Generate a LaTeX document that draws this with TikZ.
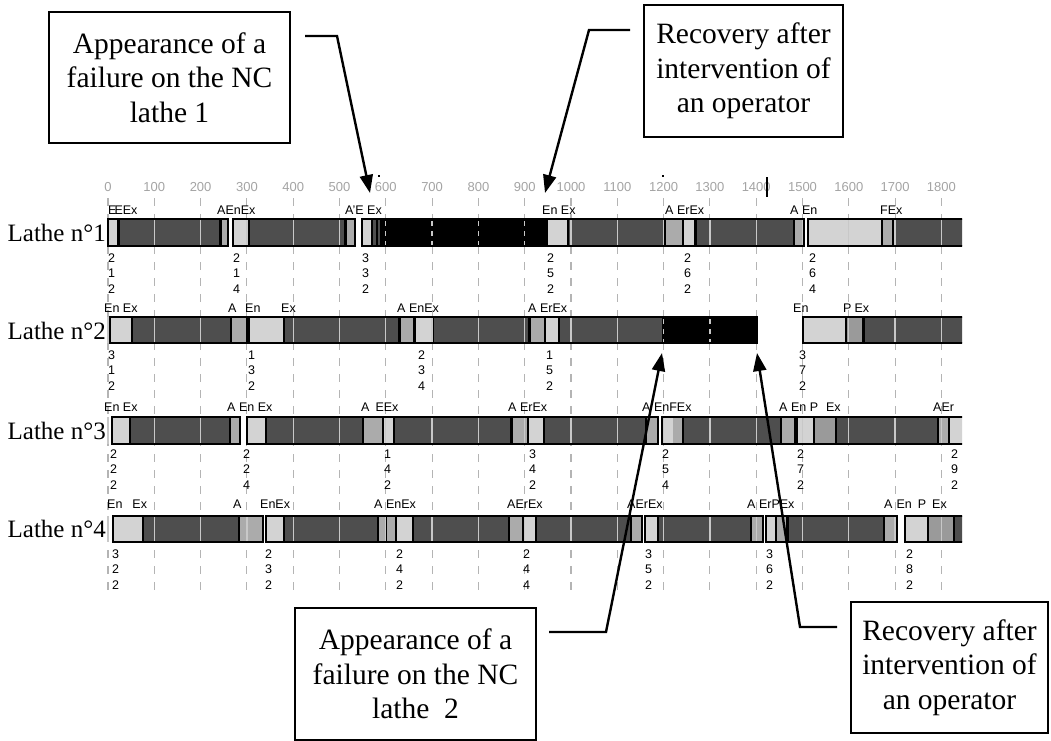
\documentclass[tikz,border=0pt]{standalone}
\usepackage{fontspec}
\setmainfont{Liberation Serif}
\setsansfont{Liberation Sans}
\usetikzlibrary{arrows.meta}
\definecolor{cL}{HTML}{D3D3D3}
\definecolor{cD}{HTML}{4E4E4E}
\definecolor{cM}{HTML}{ABABAB}
\definecolor{cP}{HTML}{9A9A9A}
\definecolor{cG}{HTML}{B4B4B4}
\definecolor{cT}{HTML}{A4A4A4}
\definecolor{cI}{HTML}{C8C8C8}
\newcommand{\chf}{\sffamily\fontsize{12.5}{15}\selectfont}
\newcommand{\axf}{\sffamily\fontsize{13}{15}\selectfont}
\newcommand{\bxf}{\fontsize{29.5}{34.5}\selectfont}
\newcommand{\lbf}{\fontsize{25}{28}\selectfont}
\def\rowA{108/117/cL,117/120/black,120/219/cD,219/222/black,222/228/cM,
233/248/cL,248/250/black,250/344/cD,344/347/black,347/355/cM,
362/371/cL,371/373/black,373/376/cD,376/378/black,378/380/cD,380/548/black,548/567/cL,567/569/black,569/663/cD,663/666/black,666/682/cM,682/684/black,684/694/cL,694/697/black,697/793/cD,793/795/black,795/804/cM,
808/881/cL,881/883/black,883/892/cM,892/895/black,895/966/cD}
\def\blkA{108/228,233/355,362/804,808/966}
\def\rowB{110/131/cL,131/133/black,133/230/cD,230/232/black,232/247/cM,
249/283/cL,283/285/black,285/398/cD,398/401/black,401/413/cM,413/416/black,416/432/cL,432/434/black,434/528/cD,528/531/black,531/544/cM,544/546/black,546/558/cL,558/560/black,560/662/cD,662/757/black,
803/845/cL,845/847/black,847/862/cP,862/865/black,865/966/cD}
\def\blkB{110/247,249/757,803/966}
\def\rowC{112/129/cL,129/131/black,131/229/cD,229/231/black,231/240/cM,
247/265/cL,265/267/black,267/362/cD,362/364/black,364/382/cM,382/384/black,384/393/cL,393/395/black,395/510/cD,510/513/black,513/527/cM,527/529/black,529/543/cL,543/545/black,545/645/cD,645/647/black,647/658/cM,
662/673/cL,673/682/cM,682/684/black,684/780/cD,780/782/black,782/795/cM,
797/813/cL,813/815/black,815/835/cP,835/837/black,837/937/cD,937/939/black,939/948/cM,948/950/black,950/966/cL}
\def\blkC{112/240,247/658,662/795,797/966}
\def\rowD{113/142/cL,142/144/black,144/238/cD,238/240/black,240/263/cM,
266/283/cL,283/285/black,285/377/cD,377/379/black,379/385/cM,385/387/black,387/395/cM,395/397/black,397/412/cL,412/414/black,414/508/cD,508/510/black,510/522/cM,522/524/black,524/535/cL,535/537/black,537/630/cD,630/632/black,632/642/cM,
645/657/cL,657/659/black,659/750/cD,750/752/black,752/763/cM,
766/775/cL,775/777/black,777/786/cM,786/789/black,789/883/cD,883/885/black,885/897/cM,
905/927/cL,927/929/black,929/953/cP,953/955/black,955/966/cD}
\def\blkD{113/263,266/642,645/763,766/897,905/966}
\newcommand{\barrow}[3]{%
  \foreach \a/\b/\c in #3 {\fill[\c] (\a,#1) rectangle (\b,#2);}
  \foreach \k in {0,...,18}{\draw[cI,line width=1.3pt] ({108+46.3*\k},#1) -- ({108+46.3*\k},#2);}
}
\newcommand{\boutl}[3]{%
  \foreach \a/\b in #3 {\draw[black,line width=1.3pt] (\a,#1) rectangle (\b,#2);}
}
\begin{document}
\begin{tikzpicture}[x=1pt,y=-1pt,
  chl/.style={font=\chf,anchor=west,inner sep=0pt},
  axl/.style={font=\axf,text=cT,inner sep=0pt},
  annot/.style={draw,line width=1.5pt,align=center,font=\bxf,inner sep=0pt},
  lathe/.style={font=\lbf,anchor=east,inner sep=0pt},
  conn/.style={line width=2.4pt,-{Triangle[length=18pt,width=13pt]}}]
\useasboundingbox (0,0) rectangle (1051,740);
\fill[white] (0,0) rectangle (1051,740);
% dashed grid
\foreach \k in {0,...,18}{
  \draw[cG,line width=1.1pt,dash pattern=on 8pt off 8pt] ({108+46.3*\k},198) -- ({108+46.3*\k},592);
  \pgfmathtruncatemacro{\lab}{100*\k}
  \node[axl] (ax\k) at ({108+46.3*\k},187) {\lab};
}
\begin{scope}
\clip (0,0) rectangle (962,740);
\barrow{219}{246}{\rowA}
\barrow{317}{343}{\rowB}
\barrow{417}{444}{\rowC}
\barrow{516}{542}{\rowD}
% failure blocks
\fill[black] (380,219) rectangle (548,246);
\fill[black] (662,317) rectangle (757,343);
\foreach \k in {6,7,8,9}{\draw[cI,line width=1.3pt,dash pattern=on 5pt off 5pt,dash phase=-2pt] ({108+46.3*\k},219) -- ({108+46.3*\k},246);}
\foreach \k in {12,13}{\draw[cI,line width=1.3pt,dash pattern=on 5pt off 5pt,dash phase=-2pt] ({108+46.3*\k},317) -- ({108+46.3*\k},343);}
\boutl{219}{246}{\blkA}
\boutl{317}{343}{\blkB}
\boutl{417}{444}{\blkC}
\boutl{516}{542}{\blkD}
% labels row 1
\node[chl] (l1a) at (108,210) {E\hspace{-2pt}EEx};
\node[chl] (l1b) at (217,210) {AEnEx};
\node[chl] (l1c) at (345,210) {A'E Ex};
\node[chl] (l1d) at (542,210) {En Ex};
\node[chl] (l1e) at (665,210) {A ErEx};
\node[chl] (l1f) at (790,210) {A En};
\node[chl] (l1g) at (880,210) {FEx};
% row 2
\node[chl] (l2a) at (104,308) {En Ex};
\node[chl] (l2b) at (228,308) {A};
\node[chl] (l2c) at (245,308) {En};
\node[chl] (l2d) at (281,308) {Ex};
\node[chl] (l2e) at (397,308) {A EnEx};
\node[chl] (l2f) at (528,308) {A ErEx};
\node[chl] (l2g) at (793,308) {En};
\node[chl] (l2h) at (843,308) {P\hspace{3pt}Ex};
% row 3
\node[chl] (l3a) at (104,407) {En Ex};
\node[chl] (l3b) at (227,407) {A En Ex};
\node[chl] (l3c) at (361,407) {A\hspace{6pt}EEx};
\node[chl] (l3d) at (508,407) {A ErEx};
\node[chl] (l3e) at (642,407) {A EnFEx};
\node[chl] (l3f) at (779,407) {A En P\hspace{8pt}Ex};
\node[chl] (l3g) at (933,407) {AEr};
% row 4
\node[chl] (l4a) at (107,504) {En\hspace{10pt}Ex};
\node[chl] (l4b) at (233,504) {A};
\node[chl] (l4c) at (260,504) {EnEx};
\node[chl] (l4d) at (374,504) {A EnEx};
\node[chl] (l4e) at (507,504) {AErEx};
\node[chl] (l4f) at (627,504) {AErEx};
\node[chl] (l4g) at (747,504) {A ErPEx};
\node[chl] (l4h) at (884,504) {A\hspace{4pt}En\hspace{6pt}P\hspace{6pt}Ex};
\end{scope}
% numbers
\foreach \x/\y/\p/\q/\r in {
 108/258/2/1/2, 233/258/2/1/4, 362/258/3/3/2, 547/258/2/5/2, 684/258/2/6/2, 809/258/2/6/4,
 108/355/3/1/2, 248/355/1/3/2, 418/355/2/3/4, 546/355/1/5/2, 799/355/3/7/2,
 110/454/2/2/2, 243/454/2/2/4, 384/454/1/4/2, 529/454/3/4/2, 662/454/2/5/4, 797/454/2/7/2, 951/454/2/9/2,
 112/554/3/2/2, 265/554/2/3/2, 396/554/2/4/2, 523/554/2/4/4, 645/554/3/5/2, 766/554/3/6/2, 906/554/2/8/2}{
  \node[chl] at (\x,\y) {\p};
  \node[chl] at (\x,\y+15.5) {\q};
  \node[chl] at (\x,\y+31) {\r};
}
% tick and dots
\draw[black,line width=1.5pt] (767,177) -- (767,197);
\fill[black] (378,175) rectangle (380,177);
\fill[black] (662,175) rectangle (664,177);
% lathe labels
\node[lathe] (n1) at (106,233) {Lathe n°1};
\node[lathe] (n2) at (106,331) {Lathe n°2};
\node[lathe] (n3) at (106,431) {Lathe n°3};
\node[lathe] (n4) at (106,529) {Lathe n°4};
% annotation boxes
\node[annot,minimum width=241pt,minimum height=131pt] (b1) at (169.5,77.5) {Appearance of a\\failure on the NC\\lathe 1};
\node[annot,minimum width=199pt,minimum height=132pt] (b2) at (743.5,71) {Recovery after\\intervention of\\an operator};
\node[annot,minimum width=241pt,minimum height=132pt] (b3) at (415.5,674) {Appearance of a\\failure on the NC\\lathe\ \ 2};
\node[annot,minimum width=197pt,minimum height=131pt] (b4) at (949.5,667.5) {Recovery after\\intervention of\\an operator};
% connectors
\coordinate (c1a) at (305,36); \coordinate (c1b) at (337,36); \coordinate (t1) at (370,193);
\coordinate (c2a) at (630,30); \coordinate (c2b) at (589,30); \coordinate (t2) at (545,193);
\coordinate (c3a) at (549,632); \coordinate (c3b) at (606,632); \coordinate (t3) at (662,353);
\coordinate (c4a) at (837,627); \coordinate (c4b) at (800,627); \coordinate (t4) at (757,353);
\draw[conn] (c1a) -- (c1b) -- (t1);
\draw[conn] (c2a) -- (c2b) -- (t2);
\draw[conn] (c3a) -- (c3b) -- (t3);
\draw[conn] (c4a) -- (c4b) -- (t4);
\end{tikzpicture}
\end{document}
